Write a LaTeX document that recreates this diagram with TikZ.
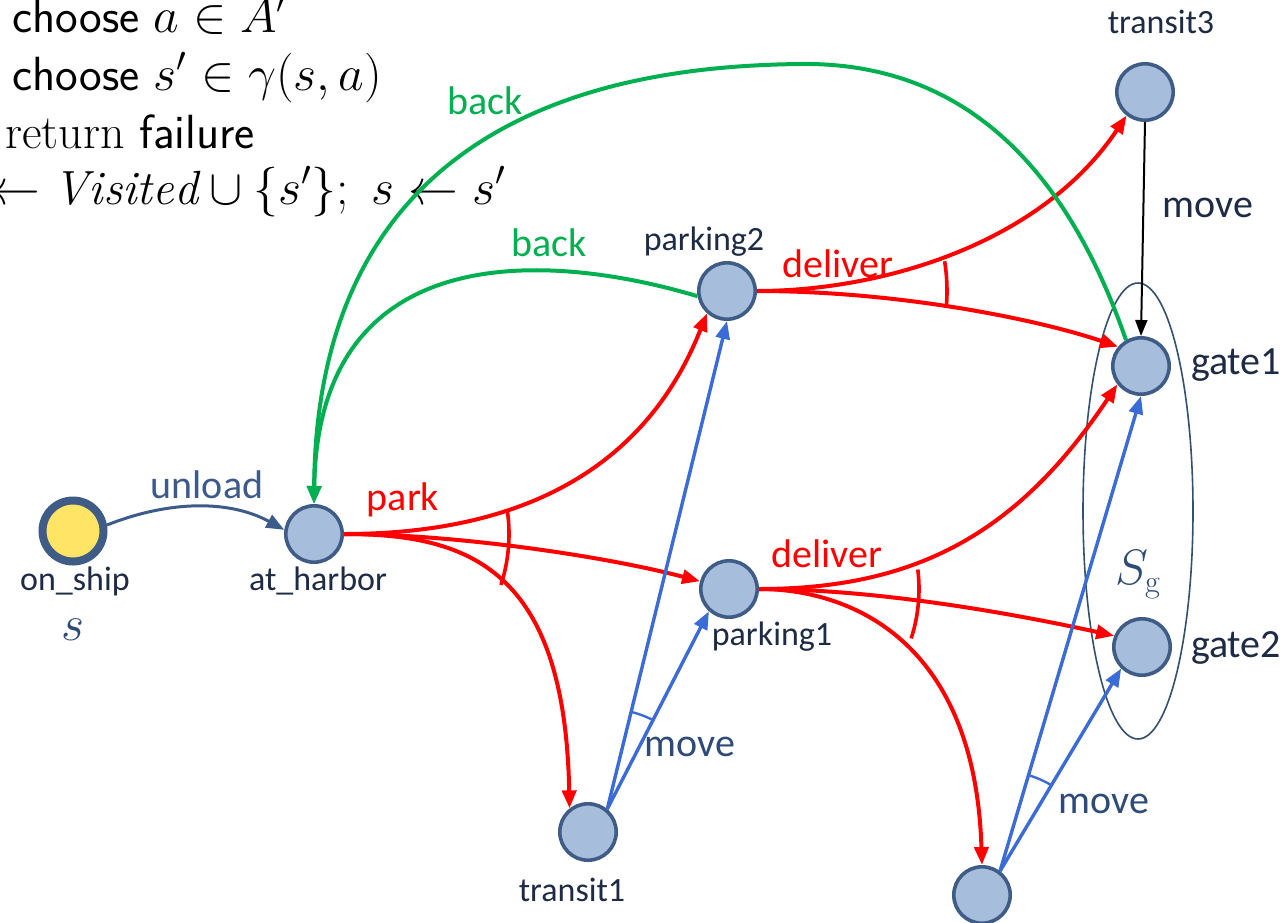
\documentclass[tikz,border=0pt]{standalone}
\usepackage{fontspec}
\newfontfamily\carl{Carlito}
\usetikzlibrary{arrows.meta}
\definecolor{nodefill}{HTML}{A6BEDC}
\definecolor{nodeline}{HTML}{3E5C86}
\definecolor{ared}{HTML}{FF0000}
\definecolor{agreen}{HTML}{00B050}
\definecolor{ablue}{HTML}{3A6BD6}
\definecolor{udark}{HTML}{3C5A8A}
\definecolor{lbl}{HTML}{1E2B45}
\definecolor{mvl}{HTML}{2E4A78}
\definecolor{ship}{HTML}{FFE466}
\definecolor{ellc}{HTML}{34506E}
\begin{document}
\begin{tikzpicture}[x=0.5pt,y=-0.5pt,
  state/.style={circle, draw=nodeline, fill=nodefill, line width=1.8pt, minimum size=28.2pt, inner sep=0pt},
  nlabel/.style={font=\carl\fontsize{17}{17}\selectfont, text=lbl, inner sep=0pt},
  elabel/.style={font=\carl\fontsize{20}{20}\selectfont, inner sep=0pt},
  algo/.style={font=\fontsize{24}{29}\selectfont, inner sep=0pt, anchor=base west},
  tip/.style={-{Triangle[length=9pt,width=7pt]}},
  redge/.style={draw=ared, line width=2pt, tip},
  gedge/.style={draw=agreen, line width=2pt, tip},
  bedge/.style={draw=ablue, line width=1.7pt, tip},
  harc/.style={line width=1.8pt},
]
\fill[white] (0,0) rectangle (1286,922);
\useasboundingbox (0,0) rectangle (1286,922);

% algorithm text
\node[algo] (l1) at (12,32) {\textsf{choose} $a \in A'$};
\node[algo] (l2) at (12,90) {\textsf{choose} $s' \in \gamma(s,a)$};
\node[algo] (l3) at (5,148) {return \textsf{failure}};
\node[algo] (l4) at (-10,204) {$\leftarrow \mathit{Visited} \cup \{s'\};\ s \leftarrow s'$};

% goal ellipse
\draw[ellc, line width=0.8pt] (1138,511) ellipse [x radius=55, y radius=228];

% states
\node[state, line width=4pt, fill=ship, minimum size=30.5pt] (ship) at (73,531) {};
\node[state] (ah) at (314,534) {};
\node[state] (p2) at (727,291) {};
\node[state] (p1) at (729,589) {};
\node[state] (t1) at (588,832) {};
\node[state] (t2) at (982,895) {};
\node[state] (t3) at (1145,92) {};
\node[state] (g1) at (1141,366) {};
\node[state] (g2) at (1142,647) {};

% node labels
\node[nlabel] (lship) at (75,581) {on\_ship};
\node[font=\fontsize{24}{24}\selectfont, text=mvl, inner sep=0pt] (ls) at (73,630) {$s$};
\node[nlabel] (lah) at (318,581) {at\_harbor};
\node[nlabel] (lp2) at (704,242) {parking2};
\node[nlabel] (lp1) at (772,637) {parking1};
\node[nlabel] (lt1) at (572,890) {transit1};
\node[nlabel] (lt3) at (1161,22) {transit3};
\node[elabel, text=lbl] (lg1) at (1236,365) {gate1};
\node[elabel, text=lbl] (lg2) at (1236,648) {gate2};
\node[font=\fontsize{23}{23}\selectfont, text=mvl, inner sep=0pt] (lsg) at (1138,575) {$S_{\mathrm{g}}$};

% unload
\draw[udark, line width=1.5pt, tip] (ship.10) .. controls (170,500) and (230,500) .. (ah.172);
\node[elabel, text=udark] (lun) at (207,485) {unload};

% park hyperedge
\draw[redge] (ah.east) .. controls (520,534) and (645,470) .. (p2.228);
\draw[redge] (ah.east) .. controls (450,534) and (600,555) .. (p1.165);
\draw[redge] (ah.east) .. controls (470,534) and (565,570) .. (t1.128);
\draw[ared, harc] (ah.east) ++(-8:165) arc[start angle=-8, end angle=18, radius=165];
\node[elabel, text=ared] (lpark) at (403,500) {park};

% deliver from parking2
\draw[redge] (p2.east) .. controls (880,291) and (1040,245) .. (t3.232);
\draw[redge] (p2.east) .. controls (900,291) and (1040,320) .. (g1.140);
\draw[ared, harc] (p2.east) ++(-9:190) arc[start angle=-9, end angle=5, radius=190];
\node[elabel, text=ared] (ld2) at (838,264) {deliver};

% deliver from parking1
\draw[redge] (p1.east) .. controls (920,589) and (1020,530) .. (g1.218);
\draw[redge] (p1.east) .. controls (880,589) and (1020,615) .. (g2.158);
\draw[redge] (p1.east) .. controls (850,589) and (975,640) .. (t2.north);
\draw[ared, harc] (p1.east) ++(-7:160) arc[start angle=-7, end angle=18, radius=160];
\node[elabel, text=ared] (ld1) at (827,554) {deliver};

% back edges
\draw[gedge] (p2.190) .. controls (560,255) and (318,230) .. (ah.north);
\draw[gedge] (g1.120) .. controls (1060,150) and (950,62) .. (800,64)
  .. controls (640,66) and (317,100) .. (ah.north);
\node[elabel, text=agreen] (lb1) at (549,243) {back};
\node[elabel, text=agreen] (lb2) at (485,101) {back};

% move transit3 -> gate1
\draw[black, line width=1pt, -{Triangle[length=8pt,width=6pt]}] (t3.south) -- (g1.north);
\node[elabel, text=lbl] (lm3) at (1208,208) {move};

% move from transit1
\draw[bedge] (t1.50) -- (p2.south);
\draw[bedge] (t1.50) -- (p1.228);
\draw[ablue, line width=1.2pt] (t1.50) ++(-76:100) arc[start angle=-76, end angle=-62, radius=100];
\node[elabel, text=mvl] (lm1) at (690,747) {move};

% move from transit2
\draw[bedge] (t2.53) -- (g1.south);
\draw[bedge] (t2.53) -- (g2.226);
\draw[ablue, line width=1.2pt] (t2.53) ++(-74:100) arc[start angle=-74, end angle=-59, radius=100];
\node[elabel, text=mvl] (lm2) at (1104,804) {move};
\end{tikzpicture}
\end{document}
